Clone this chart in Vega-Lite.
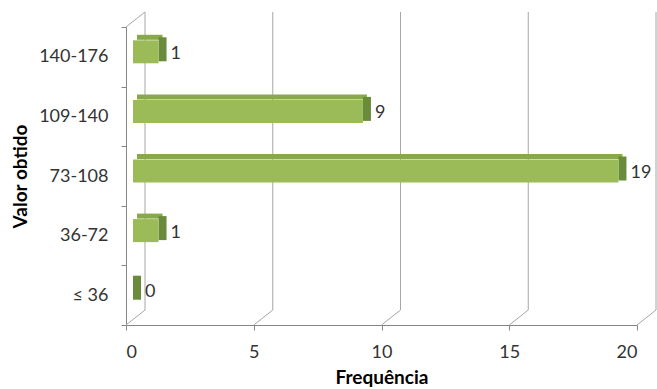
{
  "$schema": "https://vega.github.io/schema/vega-lite/v6.json",
  "width": 511,
  "height": 298,
  "autosize": {"type": "none"},
  "padding": {"left": 126, "top": 27, "right": 20, "bottom": 64},
  "background": "white",
  "config": {
    "view": {"stroke": null},
    "font": "Lato",
    "axis": {
      "domainColor": "#868686",
      "tickColor": "#868686",
      "tickSize": 5,
      "labelFont": "Lato",
      "labelFontSize": 18,
      "labelColor": "#333333",
      "titleFont": "Lato",
      "titleFontSize": 19,
      "titleFontWeight": "bold",
      "titleColor": "#000000",
      "grid": false
    }
  },
  "datasets": {
    "bars": [
      {"cat": "140-176", "n": 1},
      {"cat": "109-140", "n": 9},
      {"cat": "73-108", "n": 19},
      {"cat": "36-72", "n": 1},
      {"cat": "≤ 36", "n": 0}
    ],
    "grid": [{"v": 0}, {"v": 5}, {"v": 10}, {"v": 15}, {"v": 20}]
  },
  "resolve": {"scale": {"y": "independent"}},
  "layer": [
    {
      "data": {"name": "grid"},
      "layer": [
        {
          "mark": {"type": "rule", "color": "#A6A6A6", "strokeWidth": 1, "xOffset": 19, "yOffset": -15, "y2Offset": -15},
          "encoding": {
            "x": {"field": "v", "type": "quantitative", "scale": {"domain": [0, 20], "nice": false}, "axis": {"values": [0, 5, 10, 15, 20], "title": "Frequência", "labelPadding": 13, "titlePadding": 7}},
            "y": {"datum": 0, "type": "quantitative", "scale": {"domain": [0, 1]}, "axis": null},
            "y2": {"datum": 1}
          }
        },
        {
          "mark": {"type": "rule", "color": "#A6A6A6", "strokeWidth": 1, "x2Offset": 19, "y2Offset": -15},
          "encoding": {
            "x": {"field": "v", "type": "quantitative"},
            "x2": {"field": "v"},
            "y": {"datum": 0, "type": "quantitative", "scale": {"domain": [0, 1]}, "axis": null},
            "y2": {"datum": 0}
          }
        },
        {
          "transform": [{"filter": "datum.v == 0"}],
          "mark": {"type": "rule", "color": "#A6A6A6", "strokeWidth": 1, "x2Offset": 19, "y2Offset": -15},
          "encoding": {
            "x": {"field": "v", "type": "quantitative"},
            "x2": {"field": "v"},
            "y": {"datum": 1, "type": "quantitative", "scale": {"domain": [0, 1]}, "axis": null},
            "y2": {"datum": 1}
          }
        }
      ]
    },
    {
      "data": {"name": "bars"},
      "encoding": {
        "y": {
          "field": "cat",
          "type": "nominal",
          "sort": ["140-176", "109-140", "73-108", "36-72", "≤ 36"],
          "scale": {"paddingInner": 0, "paddingOuter": 0},
          "axis": {"title": "Valor obtido", "tickBand": "extent", "labelPadding": 13, "titlePadding": 8}
        }
      },
      "layer": [
        {
          "mark": {"type": "bar", "color": "#88A84C", "height": 5, "yOffset": -19.5, "xOffset": 11, "x2Offset": 11},
          "encoding": {
            "x": {"field": "n", "type": "quantitative"},
            "x2": {"datum": 0}
          }
        },
        {
          "mark": {"type": "bar", "color": "#6A8A3C", "height": 24, "yOffset": -7.5, "xOffset": 7, "x2Offset": 15},
          "encoding": {
            "x": {"field": "n", "type": "quantitative"},
            "x2": {"field": "n"}
          }
        },
        {
          "mark": {"type": "bar", "color": "#9BBB59", "height": 23, "yOffset": -5, "xOffset": 7, "x2Offset": 7},
          "encoding": {
            "x": {"field": "n", "type": "quantitative"},
            "x2": {"datum": 0}
          }
        },
        {
          "mark": {"type": "text", "align": "left", "baseline": "middle", "dx": 19, "dy": -3, "fontSize": 18, "color": "#333333"},
          "encoding": {
            "x": {"field": "n", "type": "quantitative"},
            "text": {"field": "n", "type": "quantitative"}
          }
        }
      ]
    }
  ]
}
